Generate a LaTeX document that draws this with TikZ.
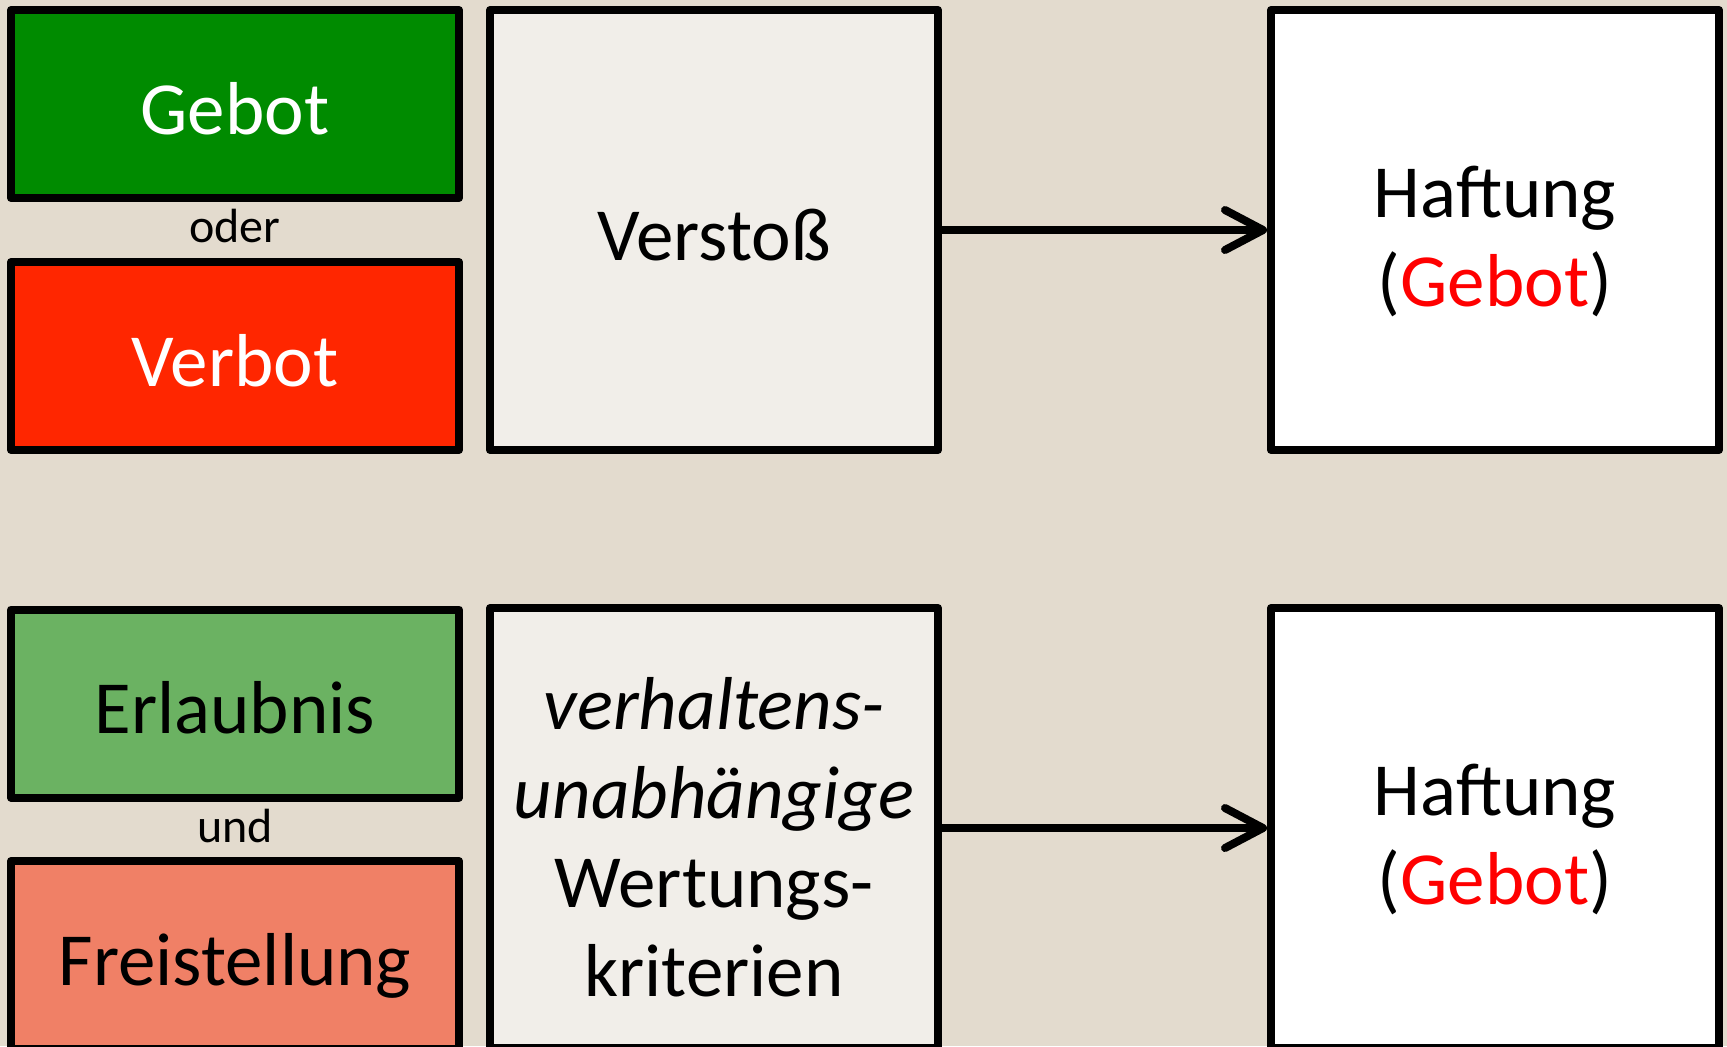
\documentclass[tikz,border=0pt]{standalone}
\usepackage{fontspec}
\setmainfont{Carlito}
\usetikzlibrary{arrows.meta}
\definecolor{bg}{RGB}{227,219,206}
\definecolor{paper}{RGB}{241,238,233}
\definecolor{gebotgreen}{RGB}{0,139,0}
\definecolor{verbotred}{RGB}{255,38,0}
\definecolor{erlgreen}{RGB}{107,178,98}
\definecolor{freisalmon}{RGB}{240,128,102}
\definecolor{txtred}{RGB}{255,0,0}
\begin{document}
\begin{tikzpicture}[x=0.5pt,y=-0.5pt,
  box/.style={draw=black, line width=4pt, line join=round, inner sep=0pt, outer sep=2pt,
    minimum width=224pt, align=center, font=\fontsize{37.5}{44.5}\selectfont},
  oneline/.style={text height=30pt, text depth=0pt},
  smallbox/.style={box, oneline, minimum height=94pt},
  bigbox/.style={box, minimum height=220pt},
  conj/.style={inner sep=0pt, anchor=base, font=\fontsize{24}{28}\selectfont},
  arr/.style={line width=4pt, -{Straight Barb[length=19pt,width=20pt,line cap=round,line join=round]}}
]
\useasboundingbox (0,0) rectangle (1727,1046);
\clip (0,0) rectangle (1727,1046);
\fill[bg] (0,0) rectangle (1727,1046);

% top row
\node[smallbox, fill=gebotgreen, text=white] (gebot) at (235,104) {Gebot};
\node[smallbox, fill=verbotred, text=white] (verbot) at (235,356) {Verbot};
\node[conj] (oder) at (235,242) {oder};
\node[bigbox, oneline, fill=paper] (verstoss) at (714,230) {Verstoß};
\node[bigbox, fill=white] (haft1) at (1495,230) {\rule{0pt}{37pt}Haftung\\(\textcolor{txtred}{Gebot})};
\draw[arr] (verstoss.east) -- (haft1.west);

% bottom row
\node[smallbox, fill=erlgreen] (erlaubnis) at (235,703.5) {Erlaubnis};
\node[smallbox, fill=freisalmon] (frei) at (235,955) {Freistellung};
\node[conj] (und) at (235,842) {und};
\node[bigbox, fill=paper] (kriterien) at (714,828) {\rule{0pt}{35pt}\textit{verhaltens-}\\\textit{unabhängige}\\Wertungs-\\kriterien};
\node[bigbox, fill=white] (haft2) at (1495,828) {\rule{0pt}{37pt}Haftung\\(\textcolor{txtred}{Gebot})};
\draw[arr] (kriterien.east) -- (haft2.west);
\end{tikzpicture}
\end{document}
